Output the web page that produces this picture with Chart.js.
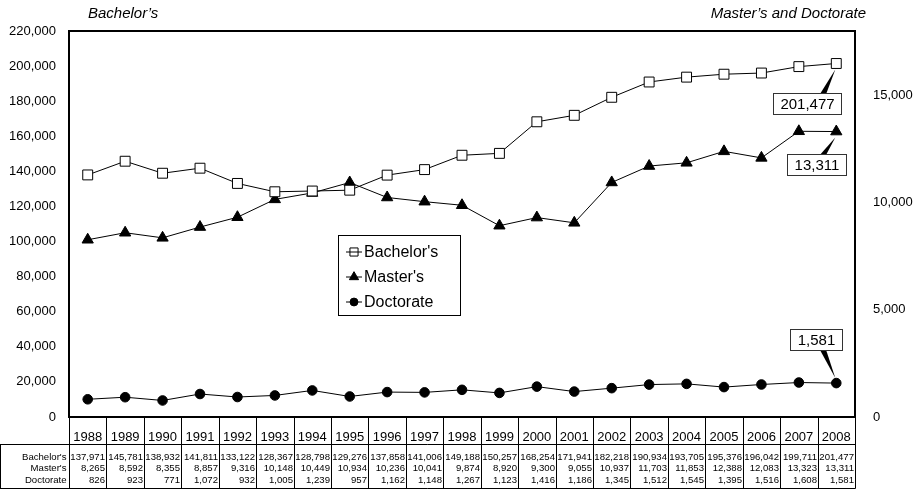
<!DOCTYPE html>
<html>
<head>
<meta charset="utf-8">
<script src="https://cdn.jsdelivr.net/npm/chart.js@4"></script>
<style>
  body { margin: 0; background: #fff; }
  canvas { display: block; }
</style>
</head>
<body>
<canvas id="degreeChart" width="917" height="490"></canvas>
<script>
const years = ["1988", "1989", "1990", "1991", "1992", "1993", "1994", "1995", "1996", "1997", "1998",
  "1999", "2000", "2001", "2002", "2003", "2004", "2005", "2006", "2007", "2008"];
const bachelors = [137971, 145781, 138932, 141811, 133122, 128367, 128798, 129276, 137858, 141006, 149188,
  150257, 168254, 171941, 182218, 190934, 193705, 195376, 196042, 199711, 201477];
const masters = [8265, 8592, 8355, 8857, 9316, 10148, 10449, 10934, 10236, 10041, 9874,
  8920, 9300, 9055, 10937, 11703, 11853, 12388, 12083, 13323, 13311];
const doctorates = [826, 923, 771, 1072, 932, 1005, 1239, 957, 1162, 1148, 1267,
  1123, 1416, 1186, 1345, 1512, 1545, 1395, 1516, 1608, 1581];
const seriesNames = ["Bachelor's", "Master's", "Doctorate"];
const leftTitle = "Bachelor\u2019s";
const rightTitle = "Master\u2019s and Doctorate";

const LEFT_MAX = 220000;
const LEFT_STEP = 20000;
const RIGHT_MAX = 18000;
const rightTicks = [0, 5000, 10000, 15000];

const FONT = "'Liberation Sans', Arial, sans-serif";
const fmt = (v) => Number(v).toLocaleString("en-US");

const markerStyles = [
  { pointStyle: "rect", radius: 7, backgroundColor: "#fff" },
  { pointStyle: "triangle", radius: 6.5, backgroundColor: "#000" },
  { pointStyle: "circle", radius: 4.8, backgroundColor: "#000" },
];

// callout boxes for the last value of each series (offset from the point)
const callouts = [
  { dataset: 0, dx: -29, dy: 40 },
  { dataset: 1, dx: -20, dy: 33 },
  { dataset: 2, dx: -20, dy: -44 },
];

const drawCallout = (ctx, px, py, cx, cy, text) => {
  ctx.font = `15px ${FONT}`;
  const w = Math.round(ctx.measureText(text).width) + 14;
  const h = 21;
  const left = Math.round(cx - w / 2) + 0.5;
  const top = Math.round(cy - h / 2) + 0.5;

  // wedge pointer
  const baseY = cy < py ? top + h : top;
  const tipY = cy < py ? py - 5 : py + 6;
  const baseX = px - 13;
  ctx.fillStyle = "#000";
  ctx.beginPath();
  ctx.moveTo(baseX - 3, baseY);
  ctx.lineTo(baseX + 3, baseY);
  ctx.lineTo(px - 1, tipY);
  ctx.closePath();
  ctx.fill();

  ctx.fillStyle = "#fff";
  ctx.fillRect(left, top, w, h);
  ctx.strokeStyle = "#333";
  ctx.lineWidth = 1;
  ctx.strokeRect(left, top, w, h);
  ctx.fillStyle = "#000";
  ctx.textAlign = "center";
  ctx.textBaseline = "middle";
  ctx.fillText(text, left + w / 2, top + h / 2 + 1);
};

const decorPlugin = {
  id: "decor",
  afterDraw(chart) {
    const { ctx, chartArea, scales } = chart;
    const xs = scales.x;
    const { left, right, top, bottom } = chartArea;
    ctx.save();

    // plot frame
    ctx.strokeStyle = "#000";
    ctx.lineWidth = 2;
    ctx.strokeRect(left, top, right - left, bottom - top);

    // titles
    ctx.fillStyle = "#000";
    ctx.font = `italic 15px ${FONT}`;
    ctx.textBaseline = "middle";
    ctx.textAlign = "left";
    ctx.fillText(leftTitle, 88, 14);
    ctx.textAlign = "right";
    ctx.fillText(rightTitle, 866, 14);

    // data table under the plot
    const step = xs.getPixelForValue(1) - xs.getPixelForValue(0);
    const edges = [];
    for (let i = 0; i <= years.length; i += 1) {
      edges.push(Math.round(xs.getPixelForValue(0) - step / 2 + i * step) + 0.5);
    }
    const headerBottom = 444.5;
    const tableBottom = 488.5;
    ctx.lineWidth = 1;
    ctx.strokeStyle = "#000";
    edges.forEach((x) => {
      ctx.beginPath();
      ctx.moveTo(x, bottom);
      ctx.lineTo(x, tableBottom);
      ctx.stroke();
    });
    ctx.beginPath();
    ctx.moveTo(0, headerBottom);
    ctx.lineTo(edges[edges.length - 1], headerBottom);
    ctx.moveTo(0, tableBottom);
    ctx.lineTo(edges[edges.length - 1], tableBottom);
    ctx.moveTo(0.5, headerBottom);
    ctx.lineTo(0.5, tableBottom);
    ctx.stroke();

    ctx.font = `13px ${FONT}`;
    ctx.textAlign = "center";
    years.forEach((y, i) => {
      ctx.fillText(y, xs.getPixelForValue(i), 437);
    });

    const rows = [bachelors, masters, doctorates];
    const rowY = [457, 468.5, 480];
    ctx.font = `9.6px ${FONT}`;
    rows.forEach((row, r) => {
      ctx.textAlign = "right";
      ctx.fillText(seriesNames[r], edges[0] - 3, rowY[r]);
      row.forEach((v, i) => {
        ctx.fillText(fmt(v), edges[i + 1] - 1.5, rowY[r]);
      });
    });

    // legend
    const lg = { x: 338.5, y: 235.5, w: 122, h: 80 };
    ctx.fillStyle = "#fff";
    ctx.fillRect(lg.x, lg.y, lg.w, lg.h);
    ctx.strokeStyle = "#000";
    ctx.strokeRect(lg.x, lg.y, lg.w, lg.h);
    const legendY = [252, 277, 302];
    seriesNames.forEach((name, i) => {
      const y = legendY[i];
      ctx.strokeStyle = "#000";
      ctx.lineWidth = 1;
      ctx.beginPath();
      ctx.moveTo(346, y);
      ctx.lineTo(362, y);
      ctx.stroke();
      const m = markerStyles[i];
      ctx.fillStyle = i === 0 ? "rgba(0,0,0,0)" : "#000";
      Chart.helpers.drawPoint(ctx, {
        pointStyle: m.pointStyle,
        radius: m.radius * 0.82,
        rotation: 0,
        borderWidth: 1,
      }, 354, y);
      ctx.fillStyle = "#000";
      ctx.font = `16px ${FONT}`;
      ctx.textAlign = "left";
      ctx.fillText(name, 364, y + 1);
    });

    // value callouts
    callouts.forEach((c) => {
      const meta = chart.getDatasetMeta(c.dataset);
      const last = meta.data[meta.data.length - 1];
      const values = chart.data.datasets[c.dataset].data;
      drawCallout(ctx, last.x, last.y, last.x + c.dx, last.y + c.dy, fmt(values[values.length - 1]));
    });

    ctx.restore();
  },
};

const makeDataset = (label, data, axis, i) => ({
  label,
  data,
  yAxisID: axis,
  borderColor: "#000",
  borderWidth: 1,
  pointStyle: markerStyles[i].pointStyle,
  pointRadius: markerStyles[i].radius,
  pointHoverRadius: markerStyles[i].radius,
  pointBackgroundColor: markerStyles[i].backgroundColor,
  pointBorderColor: "#000",
  pointBorderWidth: 1,
  tension: 0,
});

new Chart(document.getElementById("degreeChart"), {
  type: "line",
  data: {
    labels: years,
    datasets: [
      makeDataset(seriesNames[0], bachelors, "yLeft", 0),
      makeDataset(seriesNames[1], masters, "yRight", 1),
      makeDataset(seriesNames[2], doctorates, "yRight", 2),
    ],
  },
  options: {
    responsive: false,
    animation: false,
    layout: { padding: { top: 31, bottom: 73, left: 0, right: 0 } },
    plugins: {
      legend: { display: false },
      tooltip: { enabled: false },
    },
    scales: {
      x: {
        display: false,
        offset: true,
      },
      yLeft: {
        position: "left",
        min: 0,
        max: LEFT_MAX,
        afterFit(scale) { scale.width = 69; },
        grid: { display: false, drawTicks: false },
        border: { display: false },
        ticks: {
          stepSize: LEFT_STEP,
          padding: 13,
          color: "#000",
          font: { family: FONT, size: 13 },
          callback: (v) => fmt(v),
        },
      },
      yRight: {
        position: "right",
        min: 0,
        max: RIGHT_MAX,
        afterBuildTicks(scale) {
          scale.ticks = rightTicks.map((value) => ({ value }));
        },
        afterFit(scale) { scale.width = 62; },
        grid: { display: false, drawTicks: false },
        border: { display: false },
        ticks: {
          autoSkip: false,
          padding: 18,
          color: "#000",
          font: { family: FONT, size: 13 },
          callback: (v) => fmt(v),
        },
      },
    },
  },
  plugins: [decorPlugin],
});
</script>
</body>
</html>
